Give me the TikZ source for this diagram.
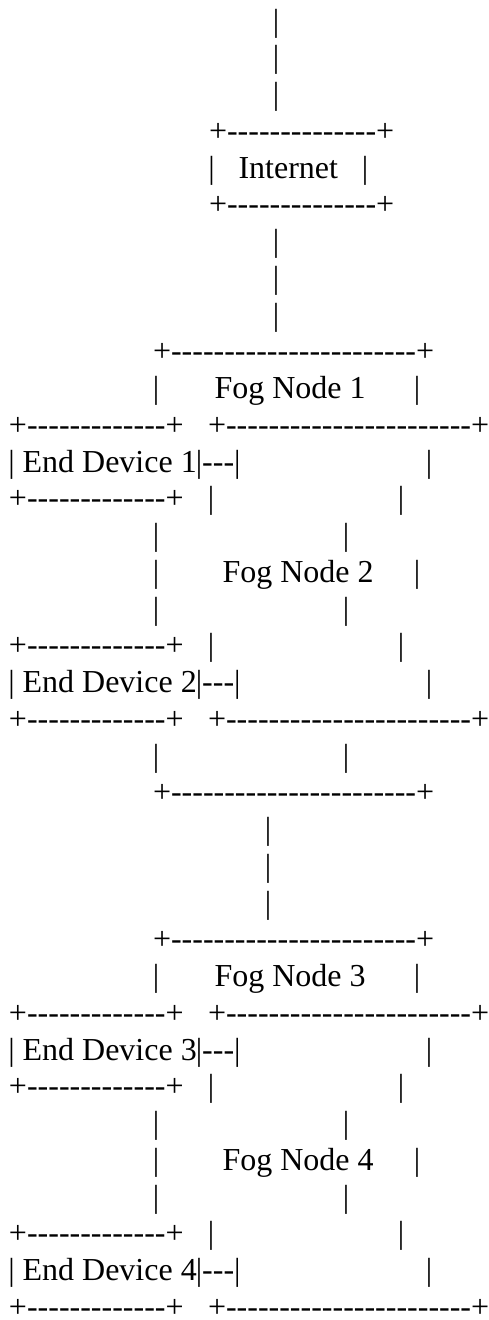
\documentclass[tikz,border=0pt]{standalone}
\usepackage{fontspec}
\newfontfamily\asc{Liberation Serif}[Ligatures=TeXOff]
\tikzset{
  txt/.style={inner sep=0pt, outer sep=0pt, anchor=base west, font=\asc\fontsize{32}{36}\selectfont, text=black},
  bar/.style={inner sep=0pt, outer sep=0pt, anchor=base, font=\asc\fontsize{32}{36}\selectfont, text=black}
}
\begin{document}
\begin{tikzpicture}[x=1pt,y=-1pt]
\useasboundingbox (0,0) rectangle (489,1320);
% top link
\node[bar] (t1) at (276,31) {|};
\node[bar] (t2) at (276,67.75) {|};
\node[bar] (t3) at (276,104.5) {|};
% Internet box
\node[txt] (i1) at (209,141.25) {+--------------+};
\node[bar] (i2l) at (211.7,178) {|};
\node[txt] (i2) at (238.5,178) {Internet};
\node[bar] (i2r) at (365,178) {|};
\node[txt] (i3) at (209,214.75) {+--------------+};
% link
\node[bar] (u1) at (276,251.5) {|};
\node[bar] (u2) at (276,288.25) {|};
\node[bar] (u3) at (276,325) {|};
% Fog node 1/2 block
\node[txt] (a10) at (153,361.75) {+-----------------------+};
\node[bar] (a11l) at (156,398.5) {|};
\node[txt] (a11) at (214.6,398.5) {Fog Node 1};
\node[bar] (a11r) at (417,398.5) {|};
\node[txt] (a12l) at (9,435.25) {+-------------+};
\node[txt] (a12r) at (208,435.25) {+-----------------------+};
\node[bar] (a13a) at (11.7,472) {|};
\node[txt] (a13b) at (22.6,472) {End Device 1};
\node[txt] (a13c) at (195.8,472) {|---|};
\node[bar] (a13d) at (429,472) {|};
\node[txt] (a14l) at (9,508.75) {+-------------+};
\node[bar] (a14a) at (211,508.75) {|};
\node[bar] (a14b) at (401,508.75) {|};
\node[bar] (a15a) at (156,545.5) {|};
\node[bar] (a15b) at (346,545.5) {|};
\node[bar] (a16l) at (156,582.25) {|};
\node[txt] (a16) at (222.6,582.25) {Fog Node 2};
\node[bar] (a16r) at (417,582.25) {|};
\node[bar] (a17a) at (156,619) {|};
\node[bar] (a17b) at (346,619) {|};
\node[txt] (a18l) at (9,655.75) {+-------------+};
\node[bar] (a18a) at (211,655.75) {|};
\node[bar] (a18b) at (401,655.75) {|};
\node[bar] (a19a) at (11.7,692.5) {|};
\node[txt] (a19b) at (22.6,692.5) {End Device 2};
\node[txt] (a19c) at (195.8,692.5) {|---|};
\node[bar] (a19d) at (429,692.5) {|};
\node[txt] (a20l) at (9,729.25) {+-------------+};
\node[txt] (a20r) at (208,729.25) {+-----------------------+};
\node[bar] (a21a) at (156,766) {|};
\node[bar] (a21b) at (346,766) {|};
\node[txt] (a22) at (153,802.75) {+-----------------------+};
% link
\node[bar] (v1) at (268,839.5) {|};
\node[bar] (v2) at (268,876.25) {|};
\node[bar] (v3) at (268,913) {|};
% Fog node 3/4 block
\node[txt] (b10) at (153,949.75) {+-----------------------+};
\node[bar] (b11l) at (156,986.5) {|};
\node[txt] (b11) at (214.6,986.5) {Fog Node 3};
\node[bar] (b11r) at (417,986.5) {|};
\node[txt] (b12l) at (9,1023.25) {+-------------+};
\node[txt] (b12r) at (208,1023.25) {+-----------------------+};
\node[bar] (b13a) at (11.7,1060) {|};
\node[txt] (b13b) at (22.6,1060) {End Device 3};
\node[txt] (b13c) at (195.8,1060) {|---|};
\node[bar] (b13d) at (429,1060) {|};
\node[txt] (b14l) at (9,1096.75) {+-------------+};
\node[bar] (b14a) at (211,1096.75) {|};
\node[bar] (b14b) at (401,1096.75) {|};
\node[bar] (b15a) at (156,1133.5) {|};
\node[bar] (b15b) at (346,1133.5) {|};
\node[bar] (b16l) at (156,1170.25) {|};
\node[txt] (b16) at (222.6,1170.25) {Fog Node 4};
\node[bar] (b16r) at (417,1170.25) {|};
\node[bar] (b17a) at (156,1207) {|};
\node[bar] (b17b) at (346,1207) {|};
\node[txt] (b18l) at (9,1243.75) {+-------------+};
\node[bar] (b18a) at (211,1243.75) {|};
\node[bar] (b18b) at (401,1243.75) {|};
\node[bar] (b19a) at (11.7,1280.5) {|};
\node[txt] (b19b) at (22.6,1280.5) {End Device 4};
\node[txt] (b19c) at (195.8,1280.5) {|---|};
\node[bar] (b19d) at (429,1280.5) {|};
\node[txt] (b20l) at (9,1317.25) {+-------------+};
\node[txt] (b20r) at (208,1317.25) {+-----------------------+};
\end{tikzpicture}
\end{document}
